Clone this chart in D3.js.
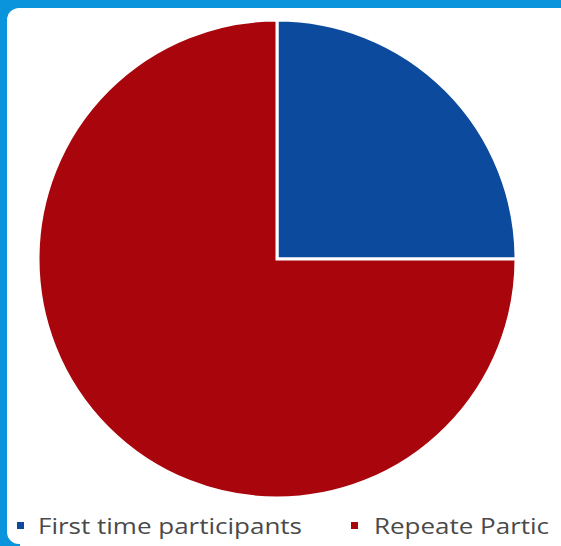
<!DOCTYPE html>
<html>
<head>
<meta charset="utf-8">
<script src="https://cdn.jsdelivr.net/npm/d3@7"></script>
<style>
  html, body { margin: 0; padding: 0; background: #ffffff; overflow: hidden; }
  svg { display: block; }
</style>
</head>
<body>
<svg id="chart" width="561" height="546"></svg>
<script>
// Data
const categories = ["First time participants", "Repeate Partic"];
const values = [25, 75];
const colors = ["#0b4a9c", "#a8060c"];

const W = 561, H = 546;
const svg = d3.select("#chart");

// Frame: blue border with white rounded panel
svg.append("rect").attr("x", 0).attr("y", 0).attr("width", W).attr("height", H).attr("fill", "#0994db");
svg.append("rect").attr("x", 7).attr("y", 8).attr("width", 570).attr("height", 536)
  .attr("rx", 12).attr("ry", 12).attr("fill", "#ffffff");
svg.append("rect").attr("x", 20).attr("y", 540).attr("width", W).attr("height", 6).attr("fill", "#ffffff");

// Pie
const cx = 277, cy = 259, r = 239;
const pie = d3.pie().sort(null).value(d => d.v);
const arc = d3.arc().innerRadius(0).outerRadius(r);
const data = categories.map((c, i) => ({ c, v: values[i], col: colors[i] }));

const g = svg.append("g").attr("transform", `translate(${cx},${cy})`);
g.selectAll("path")
  .data(pie(data))
  .join("path")
  .attr("d", arc)
  .attr("fill", d => d.data.col)
  .attr("stroke", "#ffffff")
  .attr("stroke-width", 3)
  .attr("stroke-linejoin", "miter");

// Legend
const legendY = 534;
const legendX = [17, 351];
const textX = [38, 374];
const textW = [264, 175];
const legend = svg.append("g");
data.forEach((d, i) => {
  legend.append("rect")
    .attr("x", legendX[i]).attr("y", 522).attr("width", 7).attr("height", 7)
    .attr("fill", d.col);
  legend.append("text")
    .attr("x", textX[i]).attr("y", legendY)
    .attr("font-family", "'Open Sans', 'Noto Sans', sans-serif")
    .attr("font-size", 22.5)
    .attr("fill", "#4a4a4a")
    .attr("textLength", textW[i])
    .attr("lengthAdjust", "spacingAndGlyphs")
    .text(d.c);
});
</script>
</body>
</html>
